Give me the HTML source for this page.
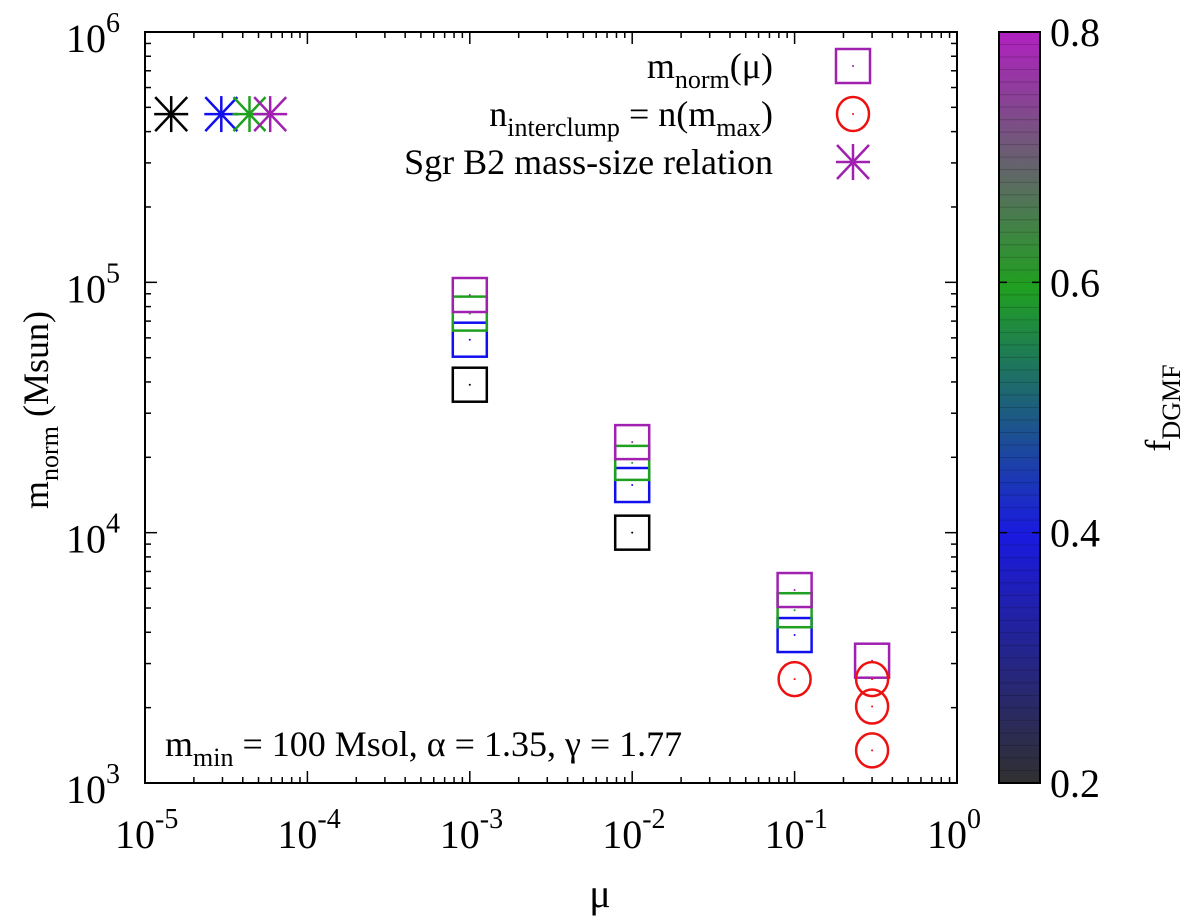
<!DOCTYPE html>
<html><head><meta charset="utf-8"><style>
html,body{margin:0;padding:0;background:#fff}
svg{display:block}
svg text{font-family:"Liberation Serif","DejaVu Serif",serif}
</style></head><body>
<svg id="chart" width="1200" height="922" viewBox="0 0 1200 922" font-family="Liberation Serif, serif">
<defs>
<linearGradient id="cb" x1="0" y1="1" x2="0" y2="0">
<stop offset="0" stop-color="#303030"/>
<stop offset="0.33" stop-color="#1a1ae0"/>
<stop offset="0.66" stop-color="#20a020"/>
<stop offset="1" stop-color="#b020c0"/>
</linearGradient>
</defs>
<g id="axes"></g>
<g id="marks"></g>
</svg>
<script>
const X0=145,X1=957,Y0=32,Y1=783;
const xLogMin=-5,xLogMax=0,yLogMin=3,yLogMax=6;
const xTickExps=[-5,-4,-3,-2,-1,0];
const yTickExps=[3,4,5,6];
const cbTicks=["0.2","0.4","0.6","0.8"];
const cbValues=[0.2,0.4,0.6,0.8];
// squares m_norm(mu)
const sqMu=[1e-3,1e-3,1e-3,1e-3,1e-2,1e-2,1e-2,1e-2,1e-1,1e-1,1e-1,0.3];
const sqM=[8.9e4,7.5e4,5.9e4,3.9e4,2.3e4,1.9e4,1.55e4,1.0e4,5.9e3,4.9e3,3.9e3,3.08e3];
const sqF=[0.8,0.6,0.4,0.2,0.8,0.6,0.4,0.2,0.8,0.6,0.4,0.8];
// circles n_interclump
const ciMu=[0.1,0.3,0.3,0.3];
const ciM=[2.6e3,2.6e3,2.02e3,1.35e3];
// stars Sgr B2
const stMu=[1.45e-5,2.95e-5,4.4e-5,5.9e-5];
const stM=[4.7e5,4.7e5,4.7e5,4.7e5];
const stF=[0.2,0.4,0.6,0.8];

const NS="http://www.w3.org/2000/svg";
const FF='"Liberation Serif","DejaVu Serif",serif';
const xs=v=>X0+(Math.log10(v)-xLogMin)/(xLogMax-xLogMin)*(X1-X0);
const ys=v=>Y1-(Math.log10(v)-yLogMin)/(yLogMax-yLogMin)*(Y1-Y0);
const colorOf=f=>f<0.3?"#000":f<0.5?"#1010ee":f<0.7?"#20a020":"#a020b0";
function mk(tag,attrs,parent){const e=document.createElementNS(NS,tag);for(const k in attrs)e.setAttribute(k,attrs[k]);if(tag==='text')e.style.fontFamily=FF;parent.appendChild(e);return e;}
const ax=document.getElementById('axes'),mg=document.getElementById('marks');

const frame=mk('rect',{x:X0,y:Y0,width:X1-X0,height:Y1-Y0,fill:'none',stroke:'#000','stroke-width':2},ax);



for(let e=xLogMin;e<=xLogMax;e++){
  const x=xs(Math.pow(10,e));
  mk('line',{x1:x,y1:Y1,x2:x,y2:Y1-12,stroke:'#000','stroke-width':1.5},ax);
  mk('line',{x1:x,y1:Y0,x2:x,y2:Y0+12,stroke:'#000','stroke-width':1.5},ax);
  if(e<xLogMax)for(let k=2;k<10;k++){const xm=xs(k*Math.pow(10,e));
    mk('line',{x1:xm,y1:Y1,x2:xm,y2:Y1-6,stroke:'#000','stroke-width':1.5},ax);
    mk('line',{x1:xm,y1:Y0,x2:xm,y2:Y0+6,stroke:'#000','stroke-width':1.5},ax);}
}
xTickExps.forEach(e=>{
  const x=xs(Math.pow(10,e));
  const t=mk('text',{x:x-30,y:848,'font-size':40},ax);
  
  
  t.textContent='10';
  const s=mk('tspan',{dy:-20,'font-size':28},t);s.textContent=String(e);
});
for(let e=yLogMin;e<=yLogMax;e++){
  const y=ys(Math.pow(10,e));
  mk('line',{x1:X0,y1:y,x2:X0+12,y2:y,stroke:'#000','stroke-width':1.5},ax);
  mk('line',{x1:X1,y1:y,x2:X1-12,y2:y,stroke:'#000','stroke-width':1.5},ax);
  if(e<yLogMax)for(let k=2;k<10;k++){const ym=ys(k*Math.pow(10,e));
    mk('line',{x1:X0,y1:ym,x2:X0+6,y2:ym,stroke:'#000','stroke-width':1.5},ax);
    mk('line',{x1:X1,y1:ym,x2:X1-6,y2:ym,stroke:'#000','stroke-width':1.5},ax);}
}
yTickExps.forEach(e=>{
  const y=ys(Math.pow(10,e));
  const t=mk('text',{x:66,y:y+20,'font-size':40},ax);
  
  
  t.textContent='10';
  const s=mk('tspan',{dy:-20,'font-size':28},t);s.textContent=String(e);
});
const CX0=999,CX1=1040;
const cbr=mk('rect',{x:CX0,y:Y0,width:CX1-CX0,height:Y1-Y0,fill:'url(#cb)',stroke:'#000','stroke-width':2},ax);


for(let i=0;i<60;i++){const y=Y0+i*(Y1-Y0)/60;mk('line',{x1:CX0,y1:y,x2:CX1,y2:y,stroke:'rgba(0,0,0,0.18)','stroke-width':1},ax);}
const cy=f=>Y1-(f-0.2)/0.6*(Y1-Y0);
cbValues.forEach((f,i)=>{
  const y=cy(f);
  mk('line',{x1:CX0,y1:y,x2:CX0+8,y2:y,stroke:'#000','stroke-width':1.5},ax);
  mk('line',{x1:CX1,y1:y,x2:CX1-8,y2:y,stroke:'#000','stroke-width':1.5},ax);
  const t=mk('text',{x:1050,y:y+14,'font-size':40},ax);
  
  
  t.textContent=cbTicks[i];
});
const xt=mk('text',{x:600,y:907,'font-size':40,'text-anchor':'middle'},ax);


xt.textContent='μ';
const yt=mk('text',{x:0,y:0,'font-size':36,'text-anchor':'middle',transform:'translate(48,410) rotate(-90)'},ax);


yt.innerHTML='m<tspan dy="10" font-size="26">norm</tspan><tspan dy="-10"> (Msun)</tspan>';
const ct=mk('text',{x:0,y:0,'font-size':36,'text-anchor':'middle',transform:'translate(1170,408) rotate(-90)'},ax);


ct.innerHTML='f<tspan dy="10" font-size="26">DGMF</tspan>';
const an=mk('text',{x:165,y:756,'font-size':36},ax);


an.innerHTML='m<tspan dy="10" font-size="26">min</tspan><tspan dy="-10"> = 100 Msol, α = 1.35, γ = 1.77</tspan>';
const leg=[['m<tspan dy="10" font-size="26">norm</tspan><tspan dy="-10">(μ)</tspan>',66],
 ['n<tspan dy="10" font-size="26">interclump</tspan><tspan dy="-10"> = n(m</tspan><tspan dy="10" font-size="26">max</tspan><tspan dy="-10">)</tspan>',114],
 ['Sgr B2 mass-size relation',162]];
leg.forEach((l,i)=>{const t=mk('text',{x:773,y:l[1]+12,'font-size':36,'text-anchor':'end'},ax);
  
  
  t.innerHTML=l[0];});
function square(cx,cy,c){const g=mk('g',{},mg);
  mk('rect',{x:cx-17,y:cy-17,width:34,height:34,fill:'none',stroke:c,'stroke-width':2.5},g);
  mk('circle',{cx:cx,cy:cy,r:1,fill:c},g);return g;}
function circ(cx,cy,c){const g=mk('g',{},mg);
  mk('ellipse',{cx:cx,cy:cy,rx:16,ry:17,fill:'none',stroke:c,'stroke-width':2.5},g);
  mk('circle',{cx:cx,cy:cy,r:1,fill:c},g);return g;}
function star(cx,cy,c){const g=mk('g',{stroke:c,'stroke-width':2.5},mg);
  mk('line',{x1:cx-17,y1:cy,x2:cx+17,y2:cy},g);mk('line',{x1:cx,y1:cy-18,x2:cx,y2:cy+18},g);
  mk('line',{x1:cx-16,y1:cy-17,x2:cx+16,y2:cy+17},g);mk('line',{x1:cx-16,y1:cy+17,x2:cx+16,y2:cy-17},g);return g;}
let g=square(853,66,'#a020b0');
g=circ(853,114,'#ee1111');
g=star(853,162,'#a020b0');
const order=sqMu.map((_,i)=>i).sort((a,b)=>sqF[a]-sqF[b]);
order.forEach(i=>{const p=square(xs(sqMu[i]),ys(sqM[i]),colorOf(sqF[i]));
  
  });
ciMu.forEach((m,i)=>{const p=circ(xs(m),ys(ciM[i]),'#ee1111');
  
  });
stMu.forEach((m,i)=>{const p=star(xs(m),ys(stM[i]),colorOf(stF[i]));
  
  });
</script>
</body></html>
